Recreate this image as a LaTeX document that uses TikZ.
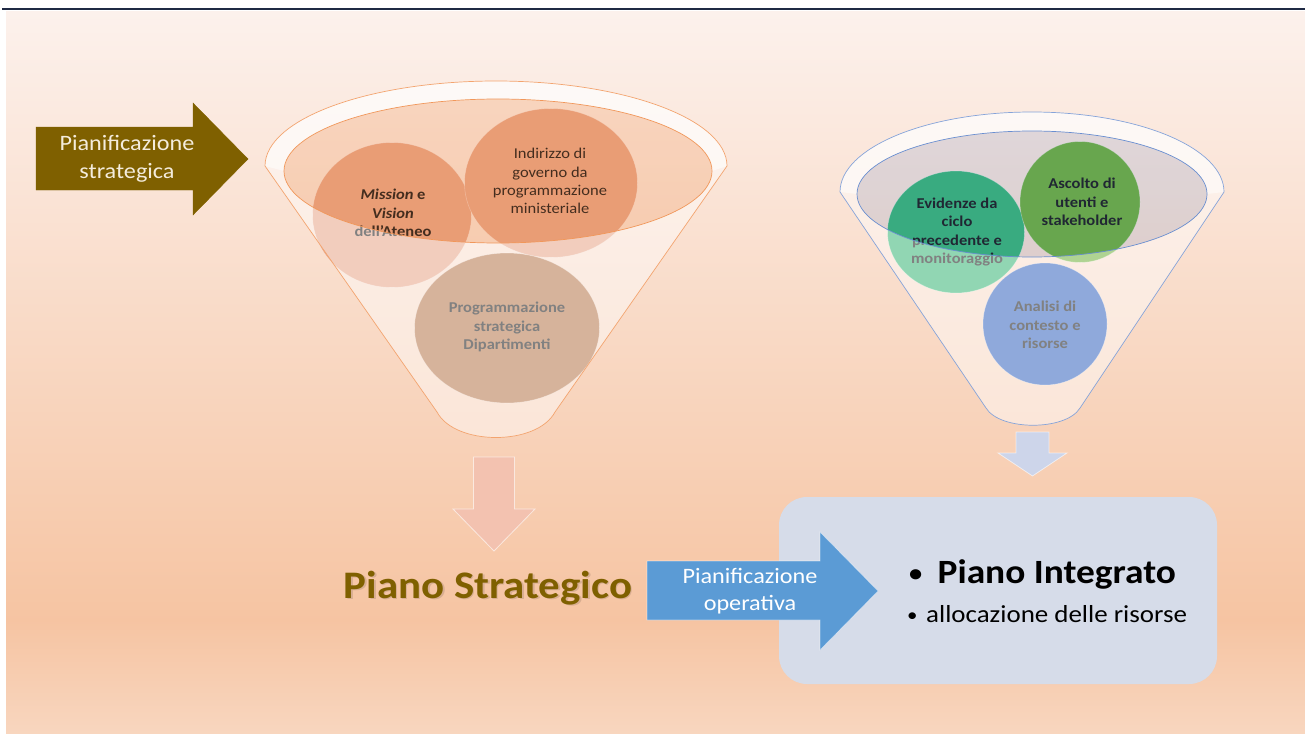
\documentclass[tikz,border=0pt]{standalone}
\usepackage{fontspec}
\setmainfont{Carlito}[FakeStretch=1.1]
\usepackage{tikz}
\usetikzlibrary{shapes.geometric, positioning, calc}
\definecolor{bgtop}{HTML}{FCF1EC}
\definecolor{bgmid}{HTML}{F6C4A2}
\definecolor{bgbot}{HTML}{F8D6BF}
\definecolor{topline}{HTML}{1F2A44}
\definecolor{olivecol}{HTML}{7F6000}
\definecolor{creamcol}{HTML}{F4ECDC}
\definecolor{orangecol}{HTML}{ED7D31}
\definecolor{salmoncol}{HTML}{E9A587}
\definecolor{claycol}{HTML}{B67549}
\definecolor{bluecol}{HTML}{4472C4}
\definecolor{evidcol}{HTML}{38B675}
\definecolor{ascolcol}{HTML}{6FB03A}
\definecolor{analcol}{HTML}{3363BE}
\definecolor{opbluecol}{HTML}{5B9BD5}
\definecolor{boxcol}{HTML}{D6DCE9}
\definecolor{pinkcol}{HTML}{F3C2B0}
\definecolor{lavcol}{HTML}{CDD5EA}
\definecolor{inkcol}{HTML}{1A1A1A}

\begin{document}
\begin{tikzpicture}[x=1pt, y=-1pt,
  bubble/.style={ellipse, inner sep=0pt, draw=white, draw opacity=0.35, line width=0.6pt},
  bubbletext/.style={align=center, inner sep=0pt, text=inkcol, font=\fontsize{15}{18.3}\selectfont},
  boldtext/.style={bubbletext, font=\fontsize{15}{18.3}\selectfont\bfseries},
  arrowtext/.style={align=center, inner sep=0pt, font=\fontsize{22}{27.5}\selectfont},
  veil/.style={fill=white, fill opacity=0.45, even odd rule},
  ringveil/.style={fill=white, fill opacity=0.5}]

  \useasboundingbox (0,0) rectangle (1305,733);
  \shade[top color=bgtop, bottom color=bgmid] (6,12) rectangle (1305,622);
  \shade[top color=bgmid, bottom color=bgbot] (6,620) rectangle (1306,734);
  \draw[topline, line width=1.3pt] (2,9) -- (1305,9);

  % funnel on the left
  \node[bubble, fill=salmoncol, minimum width=159pt, minimum height=145pt] (mission) at (392,215) {};
  \node[bubble, fill=salmoncol, minimum width=173pt, minimum height=149pt] (indirizzo) at (551,183) {};
  \node[bubble, fill=claycol, minimum width=185pt, minimum height=150pt] (progr) at (507,328) {};
  \node[boldtext] (missiontxt) at (393,213) {\textit{Mission} e\\\textit{Vision}\\dell'Ateneo};
  \node[bubbletext] (indirtxt) at (550,181) {Indirizzo di\\governo da\\programmazione\\ministeriale};
  \node[boldtext] (progrtxt) at (507,327) {Programmazione\\strategica\\Dipartimenti};

  \path[veil] (265,166) arc[start angle=180, end angle=0, x radius=231pt, y radius=85pt]
    -- (555,412) .. controls (537,446) and (455,446) .. (437,412) -- cycle
    (498,171) ellipse[x radius=214pt, y radius=72pt];
  \path[ringveil] (265,166) arc[start angle=180, end angle=0, x radius=231pt, y radius=85pt]
    -- (712,171) arc[start angle=0, end angle=180, x radius=214pt, y radius=72pt] -- cycle;
  \draw[orangecol!70, line width=0.7pt] (265,166) arc[start angle=180, end angle=0, x radius=231pt, y radius=85pt]
    -- (555,412) .. controls (537,446) and (455,446) .. (437,412) -- cycle;
  \draw[orangecol!80, line width=0.7pt, fill=orangecol, fill opacity=0.2]
    (498,171) ellipse[x radius=214pt, y radius=72pt];

  % funnel on the right
  \node[bubble, fill=evidcol, minimum width=137pt, minimum height=122pt] (evid) at (956,232) {};
  \node[bubble, fill=ascolcol, minimum width=120pt, minimum height=121pt] (ascolto) at (1080,202) {};
  \node[bubble, fill=analcol, minimum width=124pt, minimum height=122pt] (analisi) at (1045,324) {};
  \node[boldtext] (evidtxt) at (957,232) {Evidenze da\\ciclo\\precedente e\\monitoraggio};
  \node[boldtext] (ascoltotxt) at (1082,202) {Ascolto di\\utenti e\\stakeholder};
  \node[boldtext] (analisitxt) at (1045,325) {Analisi di\\contesto e\\risorse};

  \path[veil] (840,192) arc[start angle=180, end angle=0, x radius=192pt, y radius=80pt]
    -- (1080,408) .. controls (1066,431) and (1000,431) .. (986,408) -- cycle
    (1032,194) ellipse[x radius=175pt, y radius=63pt];
  \path[ringveil] (840,192) arc[start angle=180, end angle=0, x radius=192pt, y radius=80pt]
    -- (1207,194) arc[start angle=0, end angle=180, x radius=175pt, y radius=63pt] -- cycle;
  \draw[bluecol!65, line width=0.7pt] (840,192) arc[start angle=180, end angle=0, x radius=192pt, y radius=80pt]
    -- (1080,408) .. controls (1066,431) and (1000,431) .. (986,408) -- cycle;
  \draw[bluecol!80, line width=0.7pt, fill=bluecol, fill opacity=0.15]
    (1032,194) ellipse[x radius=175pt, y radius=63pt];

  % block arrows
  \filldraw[fill=olivecol, draw=olivecol] (36,127) -- (193,127) -- (193,103) -- (248,159)
    -- (193,215) -- (193,190) -- (36,190) -- cycle;
  \node[arrowtext, text=creamcol] (strattxt) at (127,159) {Pianificazione\\strategica};

  \foreach \cx/\ytop/\yhead/\ytip/\sw/\hw/\col in {494/457/509/551/20.5/41/pinkcol, 1032.5/432/453/476/16.5/34.5/lavcol} {
    \filldraw[fill=\col, draw=white, draw opacity=0.6, line width=0.8pt]
      ({\cx-\sw},\ytop) -- ({\cx+\sw},\ytop) -- ({\cx+\sw},\yhead) -- ({\cx+\hw},\yhead)
      -- (\cx,\ytip) -- ({\cx-\hw},\yhead) -- ({\cx-\sw},\yhead) -- cycle;
  }

  \node[fill=boxcol, rounded corners=28pt, minimum width=438pt, minimum height=187pt, inner sep=0pt] (pibox) at (998,590.5) {};

  \filldraw[fill=opbluecol, draw=white, draw opacity=0.5, line width=0.6pt] (647,561) -- (820,561) -- (820,532)
    -- (878,591) -- (820,650) -- (820,620) -- (647,620) -- cycle;
  \node[arrowtext, text=white] (opertxt) at (750,591) {Pianificazione\\operativa};

  % texts
  \node[inner sep=0pt, anchor=base, font=\fontsize{39}{46}\selectfont\bfseries, text=black, opacity=0.12] (pstratshade) at (489.5,599.5) {Piano Strategico};
  \node[inner sep=0pt, anchor=base, font=\fontsize{39}{46}\selectfont\bfseries, text=olivecol] (pstrat) at (488,598) {Piano Strategico};
  \node[inner sep=0pt, anchor=base west, font=\fontsize{34}{40}\selectfont\bfseries, text=black] (pint) at (909,583)
    {\raisebox{2pt}{\fontsize{24}{24}\selectfont\textbullet}\hspace{0.45em}Piano Integrato};
  \node[inner sep=0pt, anchor=base west, font=\fontsize{24.5}{29}\selectfont, text=black] (alloc) at (907,622)
    {\raisebox{1pt}{\fontsize{19}{19}\selectfont\textbullet}\hspace{0.35em}allocazione delle risorse};
\end{tikzpicture}
\end{document}
